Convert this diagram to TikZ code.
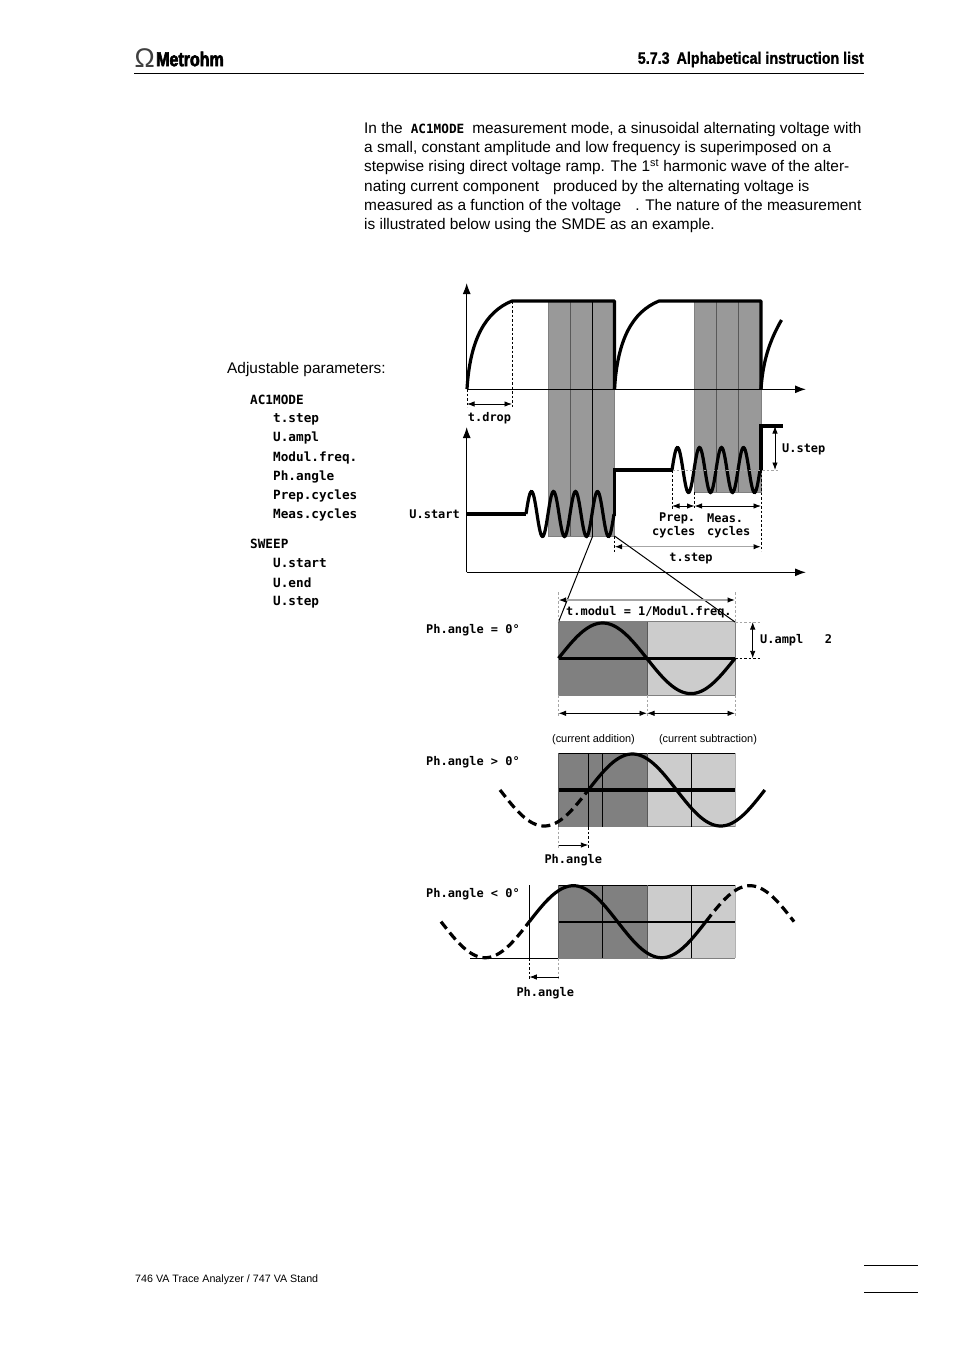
\documentclass[tikz,border=0pt]{standalone}
\usepackage{fontspec}
\setmainfont{Liberation Sans}
\setmonofont{DejaVu Sans Mono}
\newfontfamily\headfont[FakeStretch=0.86,BoldFeatures={FakeBold=1}]{Liberation Sans}
\newfontfamily\logofont[FakeStretch=0.8,BoldFeatures={FakeBold=3}]{Liberation Sans}
\usetikzlibrary{arrows.meta}
\tikzset{
  body/.style={anchor=west,inner sep=0pt,font=\fontsize{15.42}{19.2}\selectfont,align=left},
  param/.style={anchor=west,inner sep=0pt,yshift=-1pt,font=\fontsize{12.7}{14}\selectfont\ttfamily\bfseries},
  lab/.style={inner sep=0pt,yshift=-1pt,font=\fontsize{11.95}{14}\selectfont\ttfamily\bfseries},
  small/.style={inner sep=0pt,font=\fontsize{10.95}{12}\selectfont},
  axis/.style={line width=1.3pt,-{Latex[length=11pt,width=8pt]}},
  wave/.style={line width=3.2pt},
  dashwave/.style={line width=3.2pt,dash pattern=on 9pt off 5pt},
  dim/.style={line width=.9pt,{Latex[length=7.5pt,width=5.5pt]}-{Latex[length=7.5pt,width=5.5pt]}},
  dimone/.style={line width=.9pt,-{Latex[length=7.5pt,width=5.5pt]}},
  dimgray/.style={line width=1.4pt,draw=gray!70,{Latex[length=7.5pt,width=5.5pt,color=black]}-{Latex[length=7.5pt,width=5.5pt,color=black]}},
  guide/.style={line width=.7pt,dash pattern=on 2.5pt off 2pt},
  grayguide/.style={line width=.9pt,draw=gray!70,dash pattern=on 2.5pt off 2pt},
  thin line/.style={line width=1pt},
  midcell/.style={fill=black!40,draw=black!50,line width=.8pt}
}
\begin{document}
\begin{tikzpicture}[x=1pt,y=-1pt]
\path[fill=white,use as bounding box] (0,0) rectangle (954,1351);

\node[anchor=west,inner sep=0pt,text=black!75,font=\fontsize{27}{27}\selectfont] (logoOmega) at (134.5,58.5) {Ω};
\node[anchor=west,inner sep=0pt,font=\logofont\fontsize{20}{20}\selectfont\bfseries] (logoName) at (156,59) {Metrohm};
\node[anchor=east,inner sep=0pt,font=\headfont\fontsize{16.6}{17}\selectfont\bfseries] (headTitle) at (864,59.5) {5.7.3\hspace{7pt}Alphabetical instruction list};
\draw[line width=1pt] (134,74) -- (864,74);

\node[body] (introText) at (364,177.5) {In the\hspace{8pt}\raisebox{-.3pt}{\texttt{\bfseries\fontsize{12.7}{14}\selectfont AC1MODE}}\hspace{8pt}measurement mode, a sinusoidal alternating voltage with\\
a small, constant amplitude and low frequency is superimposed on a\\
stepwise rising direct voltage ramp. The 1\textsuperscript{st} harmonic wave of the alter-\\
nating current component\hspace{14pt}produced by the alternating voltage is\\
measured as a function of the voltage\hspace{14pt}. The nature of the measurement\\
is illustrated below using the SMDE as an example.};

\node[body] (adjText) at (227,370) {Adjustable parameters:};
\node[param] (parMode) at (250,399) {AC1MODE};
\node[param] (parStep) at (273,418) {t.step};
\node[param] (parAmpl) at (273,437) {U.ampl};
\node[param] (parFreq) at (273,457) {Modul.freq.};
\node[param] (parAngle) at (273,476) {Ph.angle};
\node[param] (parPrep) at (273,495) {Prep.cycles};
\node[param] (parMeas) at (273,514) {Meas.cycles};
\node[param] (parSweep) at (250,543) {SWEEP};
\node[param] (parStart) at (273,562) {U.start};
\node[param] (parEnd) at (273,582) {U.end};
\node[param] (parUstep) at (273,601) {U.step};

\draw[midcell] (548,301) rectangle (614.5,536);
\draw[midcell] (694.5,301) rectangle (761,492);
\draw[line width=.8pt,draw=black!65] (570,301) -- (570,536);
\draw[thin line] (592.7,301) -- (592.7,536);
\draw[line width=.8pt,draw=black!65] (716.7,301) -- (716.7,492);
\draw[line width=.8pt,draw=black!65] (738.7,301) -- (738.7,492);

\coordinate (topOrigin) at (466.7,389.3);
\coordinate (topUp) at (466.7,283);
\coordinate (topRight) at (806,389.3);
\coordinate (lowOrigin) at (466.7,572.3);
\coordinate (lowUp) at (466.7,427);
\coordinate (lowRight) at (806,572.3);
\draw[axis] (topOrigin) -- (topUp);
\draw[axis] (topOrigin) -- (topRight);
\draw[axis] (lowOrigin) -- (lowUp);
\draw[axis] (lowOrigin) -- (lowRight);

\draw[wave,line join=round] (467,389) .. controls (470,340) and (485,312) .. (512,301) -- (614.5,301) -- (614.5,389);
\draw[wave,line join=round] (614.5,389) .. controls (617.5,340) and (632,312) .. (659,301) -- (761,301) -- (761,389);
\draw[wave] (761,389) .. controls (763,360) and (770,340) .. (781.5,320);

\draw[wave] (467,514) -- (526,514);
\draw[wave] plot[domain=526:614,samples=120] (\x,{514-22.5*sin(16.3636*(\x-526))});
\draw[wave] (614.5,516) -- (614.5,470) -- (672,470);
\draw[wave] plot[domain=672:760,samples=120] (\x,{470-22.5*sin(16.3636*(\x-672))});
\draw[wave] (761,470) -- (761,426) -- (783,426);

\draw[guide] (467,389) -- (467,407);
\draw[guide] (512,301) -- (512,407);
\coordinate (dropA) at (467,404);
\coordinate (dropB) at (512,404);
\draw[dim] (dropA) -- (dropB);
\node[lab] (dropLabel) at (489.5,417) {t.drop};

\draw[grayguide] (672,470) -- (778,470);
\coordinate (ustepA) at (775,426);
\coordinate (ustepB) at (775,470);
\draw[dim] (ustepA) -- (ustepB);
\node[lab,anchor=west] (ustepLabel) at (782,448) {U.step};
\node[lab,anchor=east] (ustartLabel) at (460,513) {U.start};

\draw[guide] (672,470) -- (672,509);
\draw[guide] (694.5,492) -- (694.5,509);
\draw[guide] (761,470) -- (761,551);
\draw[guide] (614.5,536) -- (614.5,552);
\coordinate (prepA) at (672,506);
\coordinate (prepB) at (694.5,506);
\coordinate (measB) at (761,506);
\draw[dim] (prepA) -- (prepB);
\draw[dim] (prepB) -- (measB);
\node[lab,anchor=west] (prepLabel) at (659,517.5) {Prep.};
\node[lab,anchor=west] (prepLabelB) at (652,531) {cycles};
\node[lab,anchor=west] (measLabel) at (707,517.5) {Meas.};
\node[lab,anchor=west] (measLabelB) at (707,531) {cycles};
\coordinate (tstepA) at (614.5,546.7);
\coordinate (tstepB) at (761,546.7);
\draw[dimgray] (tstepA) -- (tstepB);
\node[lab] (tstepLabel) at (691,557.5) {t.step};

\fill[black!50] (558.5,621.7) rectangle (647,695);
\fill[black!20] (647,621.7) rectangle (735,695);
\draw[line width=.9pt,draw=black!50] (558.5,621.7) rectangle (735,695);
\draw[line width=.9pt,draw=black!65] (647,621.7) -- (647,695);

\coordinate (zoomA) at (592.7,536);
\coordinate (zoomB) at (614.5,536);
\coordinate (zoomC) at (558.5,622);
\coordinate (zoomD) at (735,622);
\draw[thin line] (zoomA) -- (zoomC);
\draw[thin line] (zoomB) -- (zoomD);

\draw[grayguide] (558.5,592) -- (558.5,622);
\draw[grayguide] (735,592) -- (735,622);
\coordinate (modulA) at (558.5,600);
\coordinate (modulB) at (735,600);
\draw[dimgray] (modulA) -- (modulB);
\node[lab,anchor=west] (modulLabel) at (566,611) {t.modul = 1/Modul.freq.};
\node[lab,anchor=west] (angleEq) at (426,629.5) {Ph.angle = 0°};

\draw[wave] (558.5,658.3) -- (735,658.3);
\draw[wave] plot[domain=558.5:735,samples=90] (\x,{658.3-35.3*sin(2.03966*(\x-558.5))});

\draw[grayguide] (735,622) -- (760,622);
\draw[guide] (735,658.3) -- (760,658.3);
\coordinate (amplA) at (752.7,622);
\coordinate (amplB) at (752.7,658.3);
\draw[dim] (amplA) -- (amplB);
\node[lab,anchor=west] (amplLabel) at (760,639.5) {U.ampl~~~2};

\draw[grayguide] (558.5,695) -- (558.5,717);
\draw[grayguide] (647,695) -- (647,717);
\draw[grayguide] (735,695) -- (735,717);
\coordinate (halfA) at (558.5,713.3);
\coordinate (halfB) at (647,713.3);
\coordinate (halfC) at (735,713.3);
\draw[dim] (halfA) -- (halfB);
\draw[dim] (halfB) -- (halfC);
\node[small] (addLabel) at (593.5,739.5) {(current addition)};
\node[small] (subLabel) at (708,739.5) {(current subtraction)};

\fill[black!50] (558.5,753.3) rectangle (647,826.7);
\fill[black!20] (647,753.3) rectangle (735,826.7);
\draw[thin line] (558.5,753.3) -- (735,753.3);
\draw[line width=.9pt,draw=black!50] (558.5,826.7) -- (735,826.7);
\draw[line width=.8pt,draw=black!65] (558.5,753.3) -- (558.5,826.7);
\draw[line width=.8pt,draw=black!65] (647,753.3) -- (647,826.7);
\draw[line width=.8pt,draw=black!30] (735,753.3) -- (735,826.7);
\draw[thin line] (588.3,753.3) -- (588.3,826.7);
\draw[thin line] (602.3,753.3) -- (602.3,826.7);
\draw[thin line] (691.7,753.3) -- (691.7,826.7);
\draw[wave] (558.5,790) -- (735,790);
\draw[dashwave] plot[domain=500:588.3,samples=60] (\x,{790-36*sin(2.03966*(\x-588.3))});
\draw[wave] plot[domain=588.3:764.8,samples=90] (\x,{790-36*sin(2.03966*(\x-588.3))});
\node[lab,anchor=west] (angleGt) at (426,761.5) {Ph.angle > 0°};
\draw[grayguide] (558.5,827) -- (558.5,848);
\draw[guide] (588.3,827) -- (588.3,848);
\coordinate (posA) at (558.5,845);
\coordinate (posB) at (588.3,845);
\draw[dimone] (posA) -- (posB);
\node[lab] (posLabel) at (573.3,859.5) {Ph.angle};

\fill[black!50] (558.5,885) rectangle (647,958.3);
\fill[black!20] (647,885) rectangle (735,958.3);
\draw[thin line] (558.5,885) -- (735,885);
\draw[line width=.8pt,draw=black!65] (558.5,885) -- (558.5,958.3);
\draw[line width=.8pt,draw=black!65] (647,885) -- (647,958.3);
\draw[line width=.8pt,draw=black!30] (735,885) -- (735,958.3);
\draw[line width=.9pt,draw=black!50] (558.5,958.3) -- (735,958.3);
\draw[thin line] (470,958.3) -- (558.5,958.3);
\draw[thin line] (529.3,885) -- (529.3,958.3);
\draw[thin line] (602.3,885) -- (602.3,958.3);
\draw[thin line] (691.7,885) -- (691.7,958.3);
\draw[line width=1.6pt] (558.5,921.7) -- (735,921.7);
\draw[dashwave] plot[domain=441:529.3,samples=60] (\x,{921.7-36*sin(2.03966*(\x-529.3))});
\draw[wave] plot[domain=529.3:705.8,samples=90] (\x,{921.7-36*sin(2.03966*(\x-529.3))});
\draw[dashwave] plot[domain=705.8:794,samples=60] (\x,{921.7-36*sin(2.03966*(\x-529.3))});
\node[lab,anchor=west] (angleLt) at (426,893.5) {Ph.angle < 0°};
\draw[guide] (529.3,958) -- (529.3,980);
\draw[grayguide] (558.5,958) -- (558.5,980);
\coordinate (negA) at (558.5,977);
\coordinate (negB) at (529.3,977);
\draw[dimone] (negA) -- (negB);
\node[lab] (negLabel) at (545.3,992.5) {Ph.angle};

\node[anchor=west,inner sep=0pt,font=\fontsize{10.7}{12}\selectfont] (footText) at (135,1279.5) {746 VA Trace Analyzer / 747 VA Stand};
\draw[line width=1pt] (864,1265.5) -- (917.5,1265.5);
\draw[line width=1pt] (864,1292.5) -- (917.5,1292.5);
\end{tikzpicture}
\end{document}
